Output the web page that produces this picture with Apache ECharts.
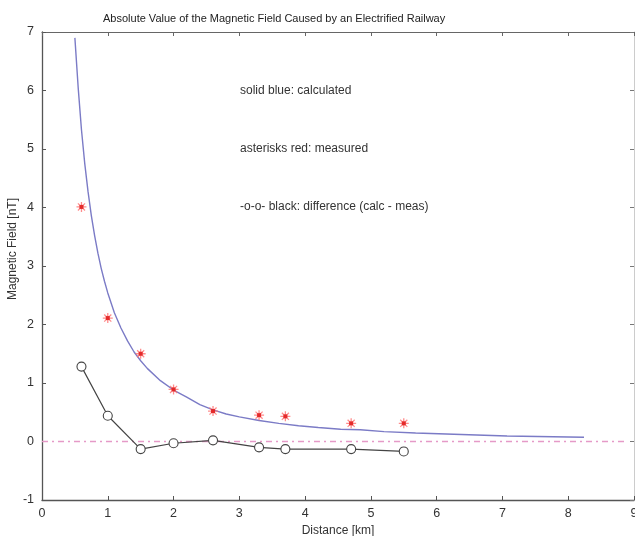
<!DOCTYPE html>
<html>
<head>
<meta charset="utf-8">
<script src="https://cdn.jsdelivr.net/npm/echarts@6/dist/echarts.min.js"></script>
<style>html,body{margin:0;padding:0;background:#fff;}#c{width:635px;height:536px;}</style>
</head>
<body>
<div id="c"></div>
<script>
const calcX = [0.5,0.55,0.6,0.65,0.7,0.75,0.8,0.85,0.9,0.95,1.0,1.1,1.2,1.3,1.4,1.5,1.6,1.8,2.0,2.2,2.4,2.6,2.8,3.0,3.3,3.6,3.9,4.2,4.54,4.84,4.84,5.2,5.2,5.68,5.68,6.26,6.26,7.07,7.07,8.24];
const calcY = [6.90,6.05,5.33,4.75,4.27,3.86,3.52,3.22,2.96,2.74,2.54,2.20,1.94,1.72,1.53,1.38,1.25,1.04,0.88,0.76,0.63,0.54,0.47,0.42,0.36,0.31,0.27,0.24,0.21,0.20,0.168,0.168,0.145,0.145,0.123,0.123,0.094,0.094,0.072,0.072];
const measX = [0.6,1.0,1.5,2.0,2.6,3.3,3.7,4.7,5.5];
const measY = [4.01,2.11,1.50,0.89,0.52,0.45,0.43,0.31,0.31];
const diffY = [1.28,0.44,-0.13,-0.03,0.02,-0.10,-0.13,-0.13,-0.17];
const zeroX = [0,8.85];
const xTicks = [0,1,2,3,4,5,6,7,8,9];
const yTicks = [-1,0,1,2,3,4,5,6,7];
const titleText = 'Absolute Value of the Magnetic Field Caused by an Electrified Railway';
const notes = ['solid blue: calculated','asterisks red: measured','-o-o- black: difference (calc - meas)'];

const FONT = 'Liberation Sans, Arial, Helvetica, sans-serif';
const zip = (xs, ys) => xs.map((x,i)=>[x, ys[i]]);
const asterisk = 'path://M-1.3,-10 L1.3,-10 L1.3,10 L-1.3,10 Z M-10,-1.3 L10,-1.3 L10,1.3 L-10,1.3 Z M-8,-6.2 L-6.2,-8 L8,6.2 L6.2,8 Z M6.2,-8 L8,-6.2 L-6.2,8 L-8,6.2 Z';

const chart = echarts.init(document.getElementById('c'));
const labelStyle = {color:'#333', fontSize:12.5, fontFamily:FONT};
chart.setOption({
  animation:false,
  backgroundColor:'#fff',
  title:{text:titleText, left:98, top:8, textStyle:{fontSize:11, fontWeight:'normal', color:'#222', fontFamily:FONT}},
  grid:{left:42, right:1, top:32, bottom:36, containLabel:false, outerBoundsMode:'none'},
  xAxis:[{
    type:'value', min:0, max:9, interval:1, position:'bottom',
    name:'Distance [km]', nameLocation:'middle', nameGap:22,
    nameTextStyle:{color:'#333', fontSize:12, fontFamily:FONT},
    axisLine:{show:true, onZero:false, lineStyle:{color:'#555', width:1.3}},
    axisTick:{show:true, inside:true, length:4, lineStyle:{color:'#555'}},
    axisLabel:{...labelStyle, margin:7, formatter:v=>xTicks.includes(v)?String(v):''},
    splitLine:{show:false}
  },{
    type:'value', min:0, max:9, interval:1, position:'top',
    axisLine:{show:true, onZero:false, lineStyle:{color:'#666', width:1.2}},
    axisTick:{show:true, inside:true, length:4, lineStyle:{color:'#666'}},
    axisLabel:{show:false}, splitLine:{show:false}
  }],
  yAxis:[{
    type:'value', min:-1, max:7, interval:1, position:'left',
    axisLine:{show:true, onZero:false, lineStyle:{color:'#555', width:1.3}},
    axisTick:{show:true, inside:true, length:4, lineStyle:{color:'#555'}},
    axisLabel:{...labelStyle, margin:8, formatter:v=>yTicks.includes(v)?String(v):''},
    splitLine:{show:false}
  },{
    type:'value', min:-1, max:7, interval:1, position:'right',
    axisLine:{show:true, onZero:false, lineStyle:{color:'#ccc', width:1}},
    axisTick:{show:true, inside:true, length:4, lineStyle:{color:'#777'}},
    axisLabel:{show:false}, splitLine:{show:false}
  }],
  graphic:[
    {type:'text', left:240, top:85, style:{text:notes[0], fill:'#333', fontSize:12, fontFamily:FONT}},
    {type:'text', left:240, top:143, style:{text:notes[1], fill:'#333', fontSize:12, fontFamily:FONT}},
    {type:'text', left:240, top:201, style:{text:notes[2], fill:'#333', fontSize:12, fontFamily:FONT}},
    {type:'text', x:13, y:249, rotation:Math.PI/2, style:{text:'Magnetic Field [nT]', fill:'#333', fontSize:12, fontFamily:FONT, align:'center', verticalAlign:'middle'}}
  ],
  series:[
    {type:'line', data:zip(zeroX,[0,0]), symbol:'none', silent:true,
     lineStyle:{color:'#e59ac8', width:1.3, type:[6,4,2,4]}, z:1},
    {type:'line', data:zip(calcX,calcY), symbol:'none', smooth:false,
     lineStyle:{color:'#7b7bc6', width:1.4}, z:3},
    {type:'line', data:zip(measX,diffY), symbol:'circle', symbolSize:9, showAllSymbol:true,
     lineStyle:{color:'#444', width:1.2},
     itemStyle:{color:'#fff', borderColor:'#444', borderWidth:1.1}, z:4},
    {type:'scatter', data:zip(measX,measY), symbol:asterisk, symbolSize:10,
     itemStyle:{color:'#ff7070', opacity:0.8}, z:5},
    {type:'scatter', data:zip(measX,measY), symbol:'rect', symbolSize:4,
     itemStyle:{color:'#dd1111'}, z:6, silent:true}
  ]
});
</script>
</body>
</html>
